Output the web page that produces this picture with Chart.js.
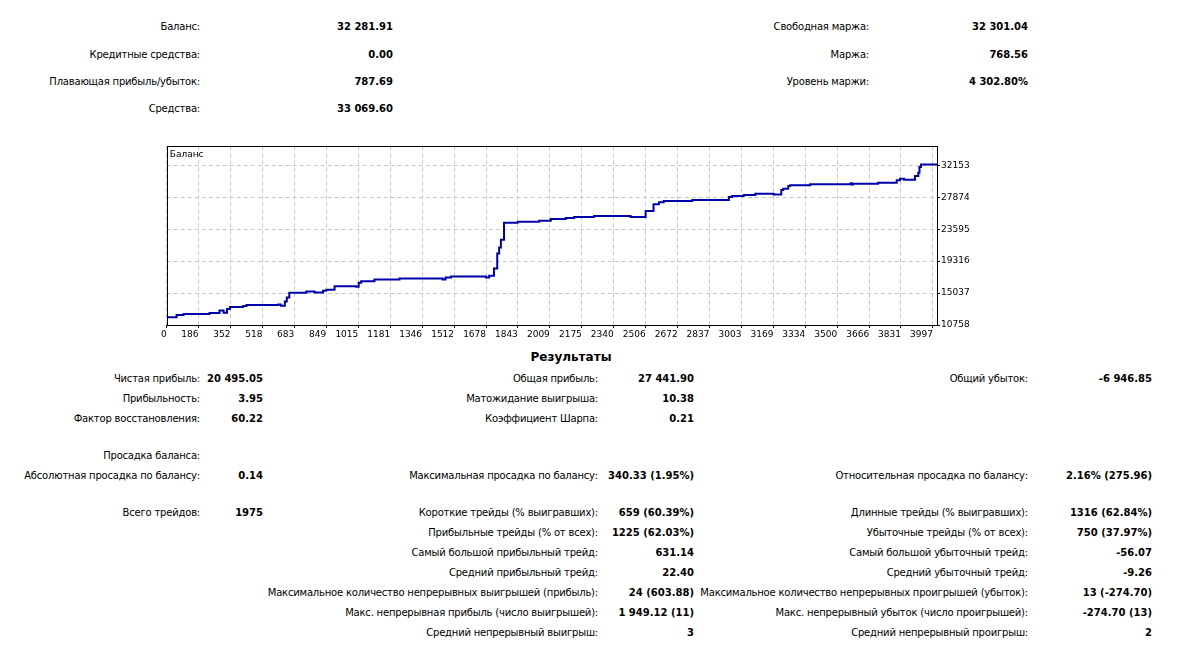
<!DOCTYPE html>
<html>
<head>
<meta charset="utf-8">
<script src="https://cdn.jsdelivr.net/npm/chart.js@4.4.1/dist/chart.umd.min.js"></script>
<style>
  body { margin: 0; background: #fff; width: 1177px; height: 651px; position: relative; overflow: hidden;
         font-family: "DejaVu Sans", sans-serif; font-size: 10px; color: #000; }
  .t { position: absolute; white-space: nowrap; line-height: 14px; letter-spacing: -0.2px; }
  .v { font-weight: bold; letter-spacing: 0; }
  .head { font-weight: bold; font-size: 12px; letter-spacing: 0; transform: translateX(-50%); }
  #wrap { position: absolute; left: 160px; top: 140px; width: 840px; height: 205px; }
</style>
</head>
<body>
<div id="wrap"><canvas id="balance-chart" width="840" height="205"></canvas></div>
<script>
// balance curve (deal number -> balance)
const deals = [21, 72, 109, 243, 295, 316, 334, 349, 418, 435, 599, 613, 634, 644, 657, 745, 788, 832, 849, 892,
  1004, 1017, 1030, 1099, 1229, 1453, 1468, 1496, 1677, 1694, 1719, 1736, 1746, 1755, 1771, 1842, 1953, 2014,
  2092, 2135, 2238, 2428, 2506, 2547, 2575, 2600, 2748, 2938, 2955, 3015, 3075, 3170, 3210, 3220, 3246, 3256,
  3360, 3570, 3575, 3583, 3712, 3809, 3826, 3847, 3904, 3921, 3927, 3935, 4018];
const balance = [11787, 12089, 12223, 12356, 12704, 12396, 12891, 13159, 13292, 13426, 13506, 13332, 13907, 14442,
  15071, 15245, 15111, 15338, 15472, 15967, 15873, 16408, 16635, 16849, 16983, 16849, 17117, 17250, 17117, 17344,
  18320, 20326, 21128, 22198, 24471, 24605, 24739, 24966, 25100, 25233, 25367, 25233, 26036, 26932, 27199, 27373,
  27507, 27908, 28042, 28175, 28349, 28242, 28844, 29018, 29379, 29472, 29606, 29740, 29579, 29686, 29820, 30141,
  30355, 30221, 30716, 31157, 31919, 32282, 32282];

const xTickLabels = [0, 186, 352, 518, 683, 849, 1015, 1181, 1346, 1512, 1678, 1843, 2009, 2175, 2340, 2506,
  2672, 2837, 3003, 3169, 3334, 3500, 3666, 3831, 3997];
const yTickValues = [10758, 15037, 19316, 23595, 27874, 32153];
const X_MIN = 21;
const X_MAX = 4018;
const Y_MAX = 34694;

// report text
const topLeft = [['Баланс:', '32 281.91'], ['Кредитные средства:', '0.00'],
  ['Плавающая прибыль/убыток:', '787.69'], ['Средства:', '33 069.60']];
const topRight = [['Свободная маржа:', '32 301.04'], ['Маржа:', '768.56'], ['Уровень маржи:', '4 302.80%']];

const resCol1 = [['Чистая прибыль:', '20 495.05'], ['Прибыльность:', '3.95'], ['Фактор восстановления:', '60.22'],
  ['Просадка баланса:', ''], ['Абсолютная просадка по балансу:', '0.14'], ['Всего трейдов:', '1975']];
const resCol2 = [['Общая прибыль:', '27 441.90'], ['Матожидание выигрыша:', '10.38'], ['Коэффициент Шарпа:', '0.21'],
  null, ['Максимальная просадка по балансу:', '340.33 (1.95%)'],
  ['Короткие трейды (% выигравших):', '659 (60.39%)'],
  ['Прибыльные трейды (% от всех):', '1225 (62.03%)'],
  ['Самый большой прибыльный трейд:', '631.14'],
  ['Средний прибыльный трейд:', '22.40'],
  ['Максимальное количество непрерывных выигрышей (прибыль):', '24 (603.88)'],
  ['Макс. непрерывная прибыль (число выигрышей):', '1 949.12 (11)'],
  ['Средний непрерывный выигрыш:', '3']];
const resCol3 = [['Общий убыток:', '-6 946.85'], null, null, null,
  ['Относительная просадка по балансу:', '2.16% (275.96)'],
  ['Длинные трейды (% выигравших):', '1316 (62.84%)'],
  ['Убыточные трейды (% от всех):', '750 (37.97%)'],
  ['Самый большой убыточный трейд:', '-56.07'],
  ['Средний убыточный трейд:', '-9.26'],
  ['Максимальное количество непрерывных проигрышей (убыток):', '13 (-274.70)'],
  ['Макс. непрерывный убыток (число проигрышей):', '-274.70 (13)'],
  ['Средний непрерывный проигрыш:', '2']];

const topRowsY = [27, 55, 82, 109];
const resRowsY = [379, 399, 419, 456, 476, 513, 533, 553, 573, 593, 613, 633];

function put(text, right, y, cls) {
  const d = document.createElement('div');
  d.className = 't ' + (cls || '');
  d.textContent = text;
  d.style.right = (1177 - right) + 'px';
  d.style.top = (y - 7) + 'px';
  document.body.appendChild(d);
}

function putColumn(rows, ys, labelRight, valueRight) {
  rows.forEach((row, i) => {
    if (!row) return;
    put(row[0], labelRight, ys[i]);
    if (row[1]) put(row[1], valueRight, ys[i], 'v');
  });
}

putColumn(topLeft, topRowsY, 200, 393);
putColumn(topRight, topRowsY, 869, 1028);
putColumn(resCol1, [379, 399, 419, 456, 476, 513], 200, 263);
putColumn(resCol2, resRowsY, 598, 694);
putColumn(resCol3, resRowsY, 1028, 1152);

const head = document.createElement('div');
head.className = 't head';
head.textContent = 'Результаты';
head.style.left = '571px';
head.style.top = '350px';
document.body.appendChild(head);

// frame round the plot + series name in its corner
const framePlugin = {
  id: 'frame',
  beforeDatasetsDraw(chart) {
    const { ctx, chartArea: a } = chart;
    ctx.save();
    ctx.strokeStyle = '#000';
    ctx.lineWidth = 1;
    ctx.strokeRect(Math.round(a.left) + 0.5, Math.round(a.top) + 0.5,
      Math.round(a.right - a.left), Math.round(a.bottom - a.top));
    ctx.fillStyle = '#000';
    ctx.font = '9px "DejaVu Sans", sans-serif';
    ctx.textBaseline = 'middle';
    ctx.fillText(chart.data.datasets[0].label, a.left + 3, a.top + 8);
    ctx.restore();
  },
};

const axisFont = { family: '"DejaVu Sans", sans-serif', size: 9 };

new Chart(document.getElementById('balance-chart'), {
  type: 'line',
  data: {
    datasets: [{
      label: 'Баланс',
      data: deals.map((d, i) => ({ x: d, y: balance[i] })),
      borderColor: '#0000aa',
      borderWidth: 2,
      pointRadius: 0,
      stepped: true,
      fill: false,
    }],
  },
  options: {
    responsive: false,
    animation: false,
    devicePixelRatio: 1,
    layout: { padding: { left: 5, top: 6, right: 0, bottom: 0 } },
    plugins: { legend: { display: false }, tooltip: { enabled: false } },
    scales: {
      x: {
        type: 'linear',
        min: X_MIN,
        max: X_MAX,
        afterBuildTicks: (scale) => {
          scale.ticks = xTickLabels.map((v, i) => ({ value: i === 0 ? X_MIN : v }));
        },
        afterFit: (scale) => { scale.height = 20; },
        grid: { color: '#c8c8c8', tickColor: '#000', tickLength: 3 },
        border: { display: false, dash: [4, 3] },
        ticks: {
          autoSkip: false, maxRotation: 0, align: 'end', padding: 1,
          color: '#000', font: axisFont,
          callback: (v, i) => String(xTickLabels[i]),
        },
      },
      y: {
        position: 'right',
        min: yTickValues[0],
        max: Y_MAX,
        afterBuildTicks: (scale) => {
          scale.ticks = yTickValues.map((v) => ({ value: v }));
        },
        afterFit: (scale) => { scale.width = 63; },
        grid: { color: '#c8c8c8', tickColor: '#000', tickLength: 3 },
        border: { display: false, dash: [4, 3] },
        ticks: {
          padding: 1, color: '#000', font: axisFont,
          callback: (v) => String(v),
        },
      },
    },
  },
  plugins: [framePlugin],
});
</script>
</body>
</html>
